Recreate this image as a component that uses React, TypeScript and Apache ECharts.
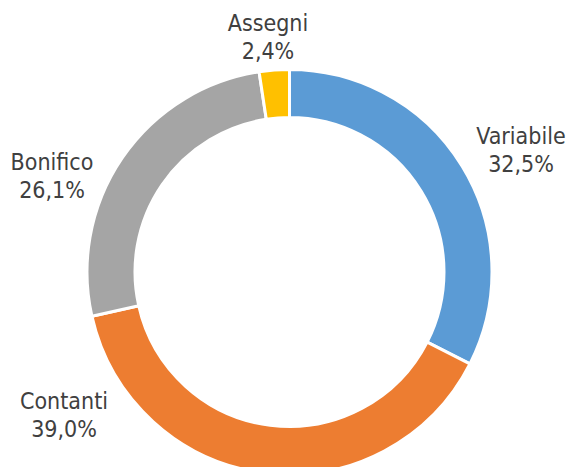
import React, { useEffect, useRef } from "react";
import * as echarts from "echarts";

const categories = ["Variabile", "Contanti", "Bonifico", "Assegni"];
const values = [32.5, 39.0, 26.1, 2.4];
const colors = ["#5B9BD5", "#ED7D31", "#A5A5A5", "#FFC000"];
// label centre positions (layout only)
const labelPos: [number, number][] = [
  [521, 150],
  [64, 415],
  [52, 176],
  [268, 37],
];

export default function App() {
  const ref = useRef<HTMLDivElement>(null);
  useEffect(() => {
    if (!ref.current) return;
    const chart = echarts.init(ref.current, undefined, { renderer: "svg" });
    chart.setOption({
      animation: false,
      backgroundColor: "#ffffff",
      series: [
        {
          type: "pie",
          center: [289.5, 272],
          radius: [154.5, 202.5],
          startAngle: 90,
          clockwise: true,
          avoidLabelOverlap: false,
          itemStyle: { borderColor: "#ffffff", borderWidth: 3 },
          label: {
            show: true,
            position: "outside",
            formatter: (p: any) =>
              p.name + "\n" + p.value.toFixed(1).replace(".", ",") + "%",
            fontFamily: "DejaVu Sans Condensed, DejaVu Sans, sans-serif",
            fontSize: 23,
            lineHeight: 28,
            color: "#404040",
            align: "center",
          },
          labelLine: { show: false },
          labelLayout: (params: any) => {
            const [x, y] = labelPos[params.dataIndex];
            return {
              x,
              y,
              align: "center",
              verticalAlign: "middle",
            };
          },
          data: categories.map((c, i) => ({
            name: c,
            value: values[i],
            itemStyle: { color: colors[i] },
          })),
        },
      ],
    });
    return () => chart.dispose();
  }, []);
  return (
    <div
      ref={ref}
      style={{ position: "fixed", left: 0, top: 0, width: 571, height: 467 }}
    />
  );
}
